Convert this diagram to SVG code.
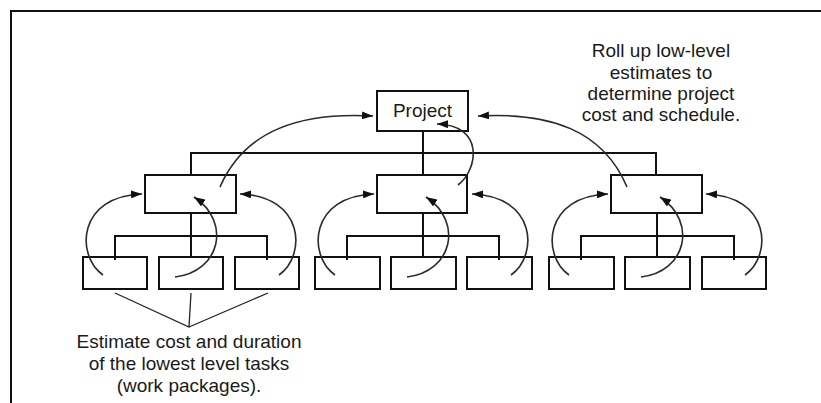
<svg xmlns="http://www.w3.org/2000/svg" width="821" height="403" viewBox="0 0 821 403">
<defs>
<style>
.box{fill:none;stroke:#111;stroke-width:2}
.ln{fill:none;stroke:#111;stroke-width:2}
.arc{fill:none;stroke:#2a2a2a;stroke-width:1.6;marker-end:url(#ah)}
.thin{fill:none;stroke:#222;stroke-width:1.3}
.t{font-family:"Liberation Sans",Arial,sans-serif;font-size:19px;fill:#1a1a1a;text-anchor:middle}
</style>
<marker id="ah" markerUnits="userSpaceOnUse" markerWidth="11" markerHeight="8" refX="11" refY="4" orient="auto">
<path d="M0,0 L11,4 L0,8 z" fill="#111"/>
</marker>
</defs>
<rect width="821" height="403" fill="#fff"/>
<path d="M11,403 V11 H821" fill="none" stroke="#111" stroke-width="2"/>

<g id="project"><rect class="box" x="377" y="91" width="91" height="40"/><text class="t" x="422.5" y="117">Project</text></g>
<g id="mid1"><rect class="box" x="145" y="175" width="91" height="38"/></g>
<g id="mid2"><rect class="box" x="377" y="175" width="90" height="38"/></g>
<g id="mid3"><rect class="box" x="611" y="175" width="91" height="38"/></g>
<g id="leaf1"><rect class="box" x="83" y="257" width="64" height="32"/></g>
<g id="leaf2"><rect class="box" x="159" y="257" width="64" height="32"/></g>
<g id="leaf3"><rect class="box" x="235" y="257" width="64" height="32"/></g>
<g id="leaf4"><rect class="box" x="315" y="257" width="65" height="32"/></g>
<g id="leaf5"><rect class="box" x="391" y="257" width="65" height="32"/></g>
<g id="leaf6"><rect class="box" x="467" y="257" width="65" height="32"/></g>
<g id="leaf7"><rect class="box" x="549" y="257" width="65" height="32"/></g>
<g id="leaf8"><rect class="box" x="625" y="257" width="65" height="32"/></g>
<g id="leaf9"><rect class="box" x="702" y="257" width="64" height="32"/></g>

<g id="connectors">
<path class="ln" d="M423,131 V175 M191,175 V153 H656 V175"/>
<path class="ln" d="M191,213 V257 M115,260 V236 H267 V260"/>
<path class="ln" d="M423,213 V257 M347,260 V236 H499 V260"/>
<path class="ln" d="M657,213 V257 M581,260 V236 H734 V260"/>
<g id="arcs-g1">
<path class="arc" d="M103,275 C75,255 78,196 142,194"/>
<path class="arc" d="M175,277 C220,272 232,222 194,197"/>
<path class="arc" d="M279,275 C307,255 304,196 240,194"/>
</g>
<g id="arcs-g2" transform="translate(232,0)">
<path class="arc" d="M103,275 C75,255 78,196 142,194"/>
<path class="arc" d="M175,277 C220,272 232,222 194,197"/>
<path class="arc" d="M279,275 C307,255 304,196 240,194"/>
</g>
<g id="arcs-g3" transform="translate(466,0)">
<path class="arc" d="M103,275 C75,255 78,196 142,194"/>
<path class="arc" d="M175,277 C220,272 232,222 194,197"/>
<path class="arc" d="M279,275 C307,255 304,196 240,194"/>
</g>
<path class="arc" d="M220,187 C245,130 300,112 373,116"/>
<path class="arc" d="M458,185 C478,170 485,125 437,124"/>
<path class="arc" d="M627,187 C603,130 550,112 478,116"/>
<path class="thin" d="M115,293 L189,327 L191,293 M189,327 L268,293"/>
</g>

<g id="note-rollup">
<text class="t" x="661" y="57">Roll up low-level</text>
<text class="t" x="661" y="79">estimates to</text>
<text class="t" x="661" y="100">determine project</text>
<text class="t" x="661" y="121">cost and schedule.</text>
</g>
<g id="note-estimate">
<text class="t" x="189" y="348">Estimate cost and duration</text>
<text class="t" x="189" y="370">of the lowest level tasks</text>
<text class="t" x="189" y="392">(work packages).</text>
</g>
</svg>
